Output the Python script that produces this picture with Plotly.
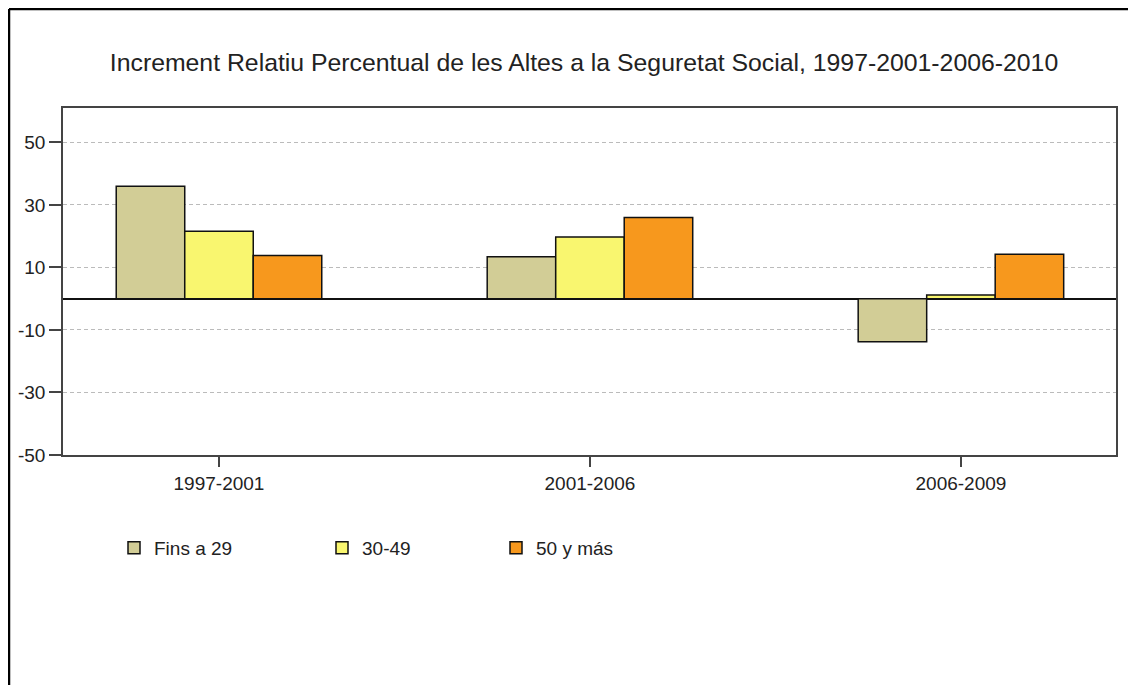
import plotly.graph_objects as go

categories = ["1997-2001", "2001-2006", "2006-2009"]
series_names = ["Fins a 29", "30-49", "50 y más"]
fins_a_29 = [36.0, 13.4, -13.8]
de_30_49 = [21.6, 19.7, 1.2]
de_50_mas = [13.8, 26.0, 14.2]
y_ticks = [-50, -30, -10, 10, 30, 50]
y_tick_labels = ["-50", "-30", "-10", "10", "30", "50"]

colors = ["#D2CD96", "#F9F66F", "#F7981D"]
values = [fins_a_29, de_30_49, de_50_mas]
legends = ["legend", "legend2", "legend3"]

W, H = 1136, 685
OFF = 8  # page body margin
L, R, T, B = 63 - OFF, 20 + OFF, 108 - OFF, 230 + OFF
pw, ph = W - L - R, H - T - B


def px_x(p):
    """screen pixel x -> paper x"""
    return (p - OFF - L) / pw


def px_y(p):
    """screen pixel y -> paper y"""
    return (H - B - (p - OFF)) / ph


fig = go.Figure()
for name, vals, col, lg in zip(series_names, values, colors, legends):
    fig.add_trace(go.Bar(
        x=categories, y=vals, name=name,
        marker=dict(color=col, line=dict(color="#111111", width=1.5)),
        legend=lg,
    ))

font_family = "Liberation Sans, Arial, sans-serif"

leg_common = dict(orientation="h", xanchor="left", yanchor="middle",
                  font=dict(family=font_family, size=19, color="#222222"),
                  bgcolor="rgba(0,0,0,0)", itemwidth=30)

fig.update_layout(
    width=W, height=H,
    margin=dict(l=L, r=R, t=T, b=B, autoexpand=False),
    paper_bgcolor="white", plot_bgcolor="white",
    barmode="group", bargap=0.446, bargroupgap=0,
    title=dict(text="Increment Relatiu Percentual de les Altes a la Seguretat Social, 1997-2001-2006-2010",
               x=px_x(584), xanchor="center", xref="paper",
               y=1 - (62 - OFF) / H, yanchor="middle",
               font=dict(family=font_family, size=24.8, color="#222222")),
    xaxis=dict(range=[-0.4205, 2.418], showline=True, mirror=True,
               linecolor="#444444", linewidth=1.5, ticks="outside",
               ticklen=10, tickcolor="#444444", tickwidth=1.5,
               showgrid=False, zeroline=False,
               tickfont=dict(family=font_family, size=19, color="#222222")),
    yaxis=dict(range=[-50, 61], tickvals=y_ticks, ticktext=y_tick_labels,
               showline=True, mirror=True,
               linecolor="#444444", linewidth=1.5, ticks="outside",
               ticklen=12, tickcolor="#444444", tickwidth=1.5,
               showgrid=True, gridcolor="#BBBBBB", griddash="4px,3px", gridwidth=1,
               zeroline=True, zerolinecolor="#111111", zerolinewidth=2,
               tickfont=dict(family=font_family, size=19, color="#222222")),
    legend=dict(x=px_x(114), y=px_y(548), **leg_common),
    legend2=dict(x=px_x(322), y=px_y(548), **leg_common),
    legend3=dict(x=px_x(496), y=px_y(548), **leg_common),
    showlegend=True,
)

# outer frame (top and left edges visible in reference)
fig.add_shape(type="line", xref="paper", yref="paper",
              x0=px_x(9), x1=px_x(1150), y0=px_y(9), y1=px_y(9),
              line=dict(color="black", width=2.5))
fig.add_shape(type="line", xref="paper", yref="paper",
              x0=px_x(9), x1=px_x(9), y0=px_y(9), y1=px_y(700),
              line=dict(color="black", width=2.5))

fig.write_html("out.html")
